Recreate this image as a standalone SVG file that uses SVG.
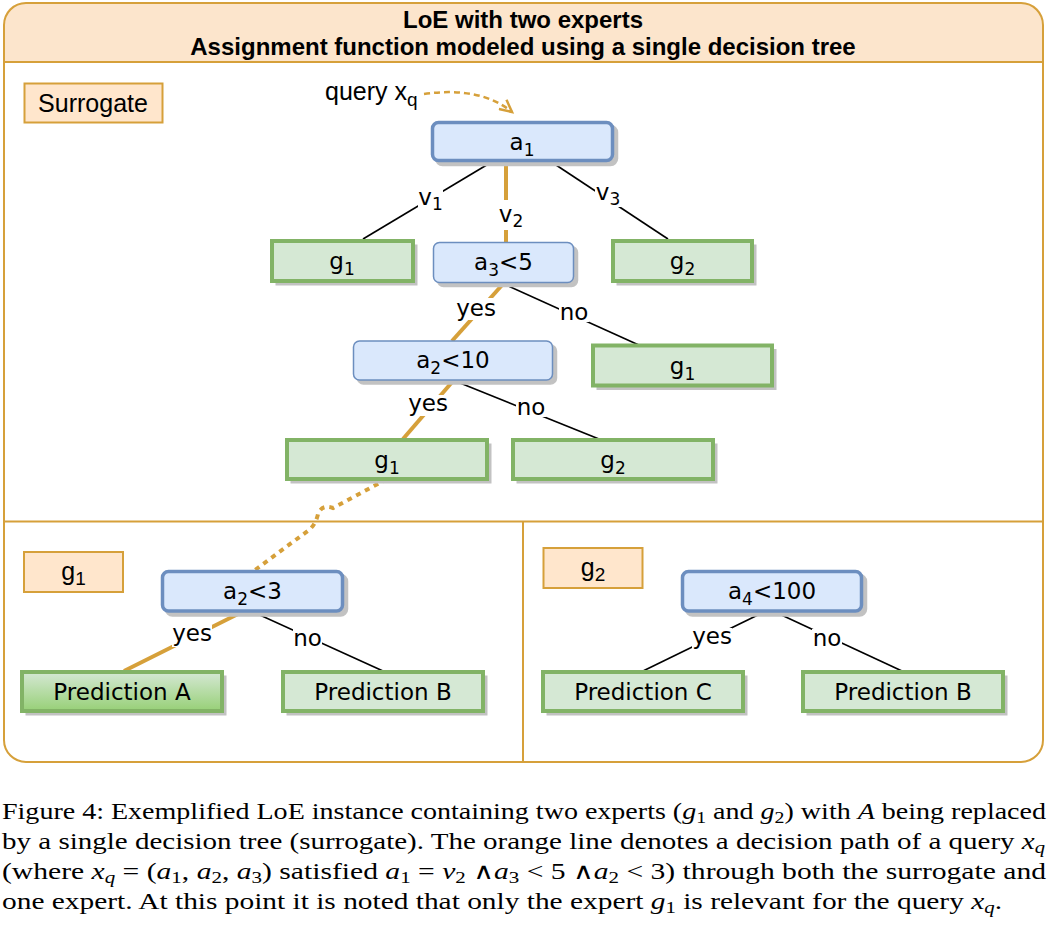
<svg xmlns="http://www.w3.org/2000/svg" width="1048" height="930" viewBox="0 0 1048 930">
<defs>
<style>
.title{font-family:"Liberation Sans",Arial,sans-serif;font-weight:bold;font-size:24px;text-anchor:middle;fill:#000}
.lbl{font-family:"Liberation Sans",Arial,sans-serif;font-size:25px;text-anchor:middle;fill:#000}
.nt{font-family:"DejaVu Sans",Verdana,sans-serif;font-size:23px;text-anchor:middle;fill:#000}
.et{font-family:"DejaVu Sans",Verdana,sans-serif;font-size:23px;text-anchor:middle;fill:#000}
.sub{font-size:17px}
.blue{fill:#dae8fc;stroke:#6c8ebf}
.thick{stroke-width:3.5}
.thin{stroke-width:1.5}
.green{fill:#d5e8d4;stroke:#82b366;stroke-width:4}
.peach{fill:#ffe6cc;stroke:#d6a03a;stroke-width:2}
.sh{fill:#c2c2c2;stroke:#c2c2c2}
.edge{stroke:#000;stroke-width:1.6;fill:none}
.path{stroke:#d6a03a;stroke-width:4;fill:none}
.bg{fill:#fff}
.frame{fill:none;stroke:#d6a03a;stroke-width:2}
.cap{font-family:"Liberation Serif","Times New Roman",serif;font-size:24px;fill:#000}
.mi{font-style:italic}
.cs{font-size:17px}
.and{font-family:"DejaVu Sans",sans-serif;font-size:23px;font-weight:normal}
</style>
<linearGradient id="gradA" x1="0" y1="0" x2="0" y2="1">
<stop offset="0" stop-color="#d5e8d4"/>
<stop offset="1" stop-color="#97d077"/>
</linearGradient>
<marker id="arr" markerUnits="userSpaceOnUse" markerWidth="16" markerHeight="14" refX="13" refY="7" orient="auto">
<path d="M1,1 L13,7 L1,13" fill="none" stroke="#d6a03a" stroke-width="2.5"/>
</marker>
</defs>

<g id="container">
<path d="M4,62 V25 Q4,3 26,3 H1021 Q1043,3 1043,25 V62 Z" fill="#fce5cc"/>
<rect class="frame" x="4" y="3" width="1039" height="759" rx="22"/>
<line class="frame" x1="4" y1="62" x2="1043" y2="62"/>
<line class="frame" x1="4" y1="521.5" x2="1043" y2="521.5"/>
<line class="frame" x1="523" y1="521.5" x2="523" y2="762"/>
<text class="title" x="523" y="28">LoE with two experts</text>
<text class="title" x="523" y="55">Assignment function modeled using a single decision tree</text>
</g>

<g id="connectors">
<path d="M424,94 Q480,86 512,112" fill="none" stroke="#d6a03a" stroke-width="2.5" stroke-dasharray="6 4" marker-end="url(#arr)"/>
<line class="edge" x1="490" y1="163" x2="363" y2="239"/>
<line class="path" x1="506" y1="162" x2="506" y2="242"/>
<line class="edge" x1="553" y1="163" x2="668" y2="239"/>
<line class="path" x1="503" y1="284" x2="452" y2="341"/>
<line class="edge" x1="504" y1="284" x2="641" y2="346"/>
<line class="path" x1="453" y1="381" x2="403" y2="439"/>
<line class="edge" x1="460" y1="383" x2="599" y2="439"/>
<path d="M387,479 L333,508 Q322,504 318,514 Q316,524 309,530 L255,570" fill="none" stroke="#d6a03a" stroke-width="4" stroke-dasharray="5 5"/>
<line class="path" x1="242" y1="612" x2="124" y2="671"/>
<line class="edge" x1="253" y1="612" x2="383" y2="671"/>
<line class="edge" x1="762" y1="613" x2="643" y2="671"/>
<line class="edge" x1="775" y1="612" x2="902" y2="671"/>

<rect class="bg" x="418" y="187" width="25" height="25"/>
<text class="et" x="430.5" y="205">v<tspan class="sub" dy="5">1</tspan></text>
<rect class="bg" x="498" y="200" width="26" height="30"/>
<text class="et" x="511" y="222">v<tspan class="sub" dy="5">2</tspan></text>
<rect class="bg" x="595" y="183" width="26" height="24"/>
<text class="et" x="608" y="200">v<tspan class="sub" dy="5">3</tspan></text>
<rect class="bg" x="456" y="298" width="40" height="22"/>
<text class="et" x="476" y="316">yes</text>
<rect class="bg" x="559" y="303" width="30" height="19"/>
<text class="et" x="574" y="320">no</text>
<rect class="bg" x="408" y="395" width="40" height="21"/>
<text class="et" x="428" y="411">yes</text>
<rect class="bg" x="516" y="398" width="30" height="19"/>
<text class="et" x="531" y="415">no</text>
<rect class="bg" x="172" y="625" width="40" height="22"/>
<text class="et" x="192" y="641">yes</text>
<rect class="bg" x="293" y="629" width="29" height="19"/>
<text class="et" x="307.5" y="646">no</text>
<rect class="bg" x="692" y="628" width="40" height="22"/>
<text class="et" x="712" y="644">yes</text>
<rect class="bg" x="812" y="629" width="30" height="19"/>
<text class="et" x="827" y="646">no</text>
</g>

<g id="n-surrogate">
<rect class="peach" x="24.5" y="83.5" width="138" height="39"/>
<text class="lbl" x="93" y="112">Surrogate</text>
</g>

<g id="n-query">
<text class="lbl" x="325" y="100" style="text-anchor:start">query x<tspan font-size="19" dy="6">q</tspan></text>
</g>

<g id="n-a1">
<rect class="sh thick" x="436.5" y="126.5" width="180" height="38" rx="6"/>
<rect class="blue thick" x="432.5" y="122.5" width="180" height="38" rx="6"/>
<text class="nt" x="522" y="150">a<tspan class="sub" dy="6">1</tspan></text>
</g>

<g id="n-g1-top">
<rect class="sh" x="276" y="245" width="141" height="40"/>
<rect class="green" x="272" y="241" width="141" height="40"/>
<text class="nt" x="342" y="269">g<tspan class="sub" dy="6">1</tspan></text>
</g>

<g id="n-a3">
<rect class="sh thin" x="437.5" y="246.5" width="140" height="40" rx="6"/>
<rect class="blue thin" x="433.5" y="242.5" width="140" height="40" rx="6"/>
<text class="nt" x="503.5" y="270">a<tspan class="sub" dy="6">3</tspan><tspan dy="-6">&lt;5</tspan></text>
</g>

<g id="n-g2-top">
<rect class="sh" x="617" y="245" width="139" height="40"/>
<rect class="green" x="613" y="241" width="139" height="40"/>
<text class="nt" x="682.5" y="269">g<tspan class="sub" dy="6">2</tspan></text>
</g>

<g id="n-g1-right">
<rect class="sh" x="597" y="349.5" width="179" height="40"/>
<rect class="green" x="593" y="345.5" width="179" height="40"/>
<text class="nt" x="682.5" y="374">g<tspan class="sub" dy="6">1</tspan></text>
</g>

<g id="n-a2-10">
<rect class="sh thin" x="357.5" y="345" width="199" height="39" rx="6"/>
<rect class="blue thin" x="353.5" y="341" width="199" height="39" rx="6"/>
<text class="nt" x="453" y="368">a<tspan class="sub" dy="6">2</tspan><tspan dy="-6">&lt;10</tspan></text>
</g>

<g id="n-g1-bottom">
<rect class="sh" x="291" y="444" width="200" height="39"/>
<rect class="green" x="287" y="440" width="200" height="39"/>
<text class="nt" x="387" y="468">g<tspan class="sub" dy="6">1</tspan></text>
</g>

<g id="n-g2-bottom">
<rect class="sh" x="517" y="444" width="200" height="39"/>
<rect class="green" x="513" y="440" width="200" height="39"/>
<text class="nt" x="613" y="468">g<tspan class="sub" dy="6">2</tspan></text>
</g>

<g id="n-g1-label">
<rect class="peach" x="24" y="552" width="99" height="40"/>
<text class="lbl" x="73.5" y="580">g<tspan font-size="19" dy="5">1</tspan></text>
</g>

<g id="n-a2-3">
<rect class="sh thick" x="166.5" y="575.5" width="180" height="39.5" rx="6"/>
<rect class="blue thick" x="162.5" y="571.5" width="180" height="39.5" rx="6"/>
<text class="nt" x="252.5" y="599">a<tspan class="sub" dy="6">2</tspan><tspan dy="-6">&lt;3</tspan></text>
</g>

<g id="n-predA">
<rect class="sh" x="26" y="676" width="200" height="39"/>
<rect x="22" y="672" width="200" height="39" fill="url(#gradA)" stroke="#82b366" stroke-width="4"/>
<text class="nt" x="122" y="700">Prediction A</text>
</g>

<g id="n-predB-left">
<rect class="sh" x="287" y="676" width="200" height="39"/>
<rect class="green" x="283" y="672" width="200" height="39"/>
<text class="nt" x="383" y="700">Prediction B</text>
</g>

<g id="n-g2-label">
<rect class="peach" x="543.5" y="548" width="99" height="40"/>
<text class="lbl" x="593" y="576">g<tspan font-size="19" dy="5">2</tspan></text>
</g>

<g id="n-a4">
<rect class="sh thick" x="686.5" y="575.5" width="179" height="39.5" rx="6"/>
<rect class="blue thick" x="682.5" y="571.5" width="179" height="39.5" rx="6"/>
<text class="nt" x="772" y="599">a<tspan class="sub" dy="6">4</tspan><tspan dy="-6">&lt;100</tspan></text>
</g>

<g id="n-predC">
<rect class="sh" x="547" y="676" width="200" height="39"/>
<rect class="green" x="543" y="672" width="200" height="39"/>
<text class="nt" x="643" y="700">Prediction C</text>
</g>

<g id="n-predB-right">
<rect class="sh" x="807" y="676" width="200" height="39"/>
<rect class="green" x="803" y="672" width="200" height="39"/>
<text class="nt" x="903" y="700">Prediction B</text>
</g>

<g id="caption">
<text class="cap" x="2" y="819" textLength="1044" lengthAdjust="spacingAndGlyphs">Figure 4: Exemplified LoE instance containing two experts (<tspan class="mi">g</tspan><tspan class="cs" dy="4">1</tspan><tspan dy="-4"> and </tspan><tspan class="mi">g</tspan><tspan class="cs" dy="4">2</tspan><tspan dy="-4">) with </tspan><tspan class="mi">A</tspan> being replaced</text>
<text class="cap" x="2" y="849" textLength="1043" lengthAdjust="spacingAndGlyphs">by a single decision tree (surrogate).  The orange line denotes a decision path of a query <tspan class="mi">x</tspan><tspan class="cs mi" dy="4">q</tspan></text>
<text class="cap" x="2" y="879" textLength="1044" lengthAdjust="spacingAndGlyphs">(where <tspan class="mi">x</tspan><tspan class="cs mi" dy="4">q</tspan><tspan dy="-4"> = (</tspan><tspan class="mi">a</tspan><tspan class="cs" dy="4">1</tspan><tspan dy="-4">, </tspan><tspan class="mi">a</tspan><tspan class="cs" dy="4">2</tspan><tspan dy="-4">, </tspan><tspan class="mi">a</tspan><tspan class="cs" dy="4">3</tspan><tspan dy="-4">) satisfied </tspan><tspan class="mi">a</tspan><tspan class="cs" dy="4">1</tspan><tspan dy="-4"> = </tspan><tspan class="mi">v</tspan><tspan class="cs" dy="4">2</tspan><tspan dy="-4"> </tspan><tspan class="and">∧</tspan><tspan class="mi">a</tspan><tspan class="cs" dy="4">3</tspan><tspan dy="-4"> &lt; 5 </tspan><tspan class="and">∧</tspan><tspan class="mi">a</tspan><tspan class="cs" dy="4">2</tspan><tspan dy="-4"> &lt; 3) through both the surrogate and</tspan></text>
<text class="cap" x="2" y="909" textLength="1000" lengthAdjust="spacingAndGlyphs">one expert. At this point it is noted that only the expert <tspan class="mi">g</tspan><tspan class="cs" dy="4">1</tspan><tspan dy="-4"> is relevant for the query </tspan><tspan class="mi">x</tspan><tspan class="cs mi" dy="4">q</tspan><tspan dy="-4">.</tspan></text>
</g>
</svg>
